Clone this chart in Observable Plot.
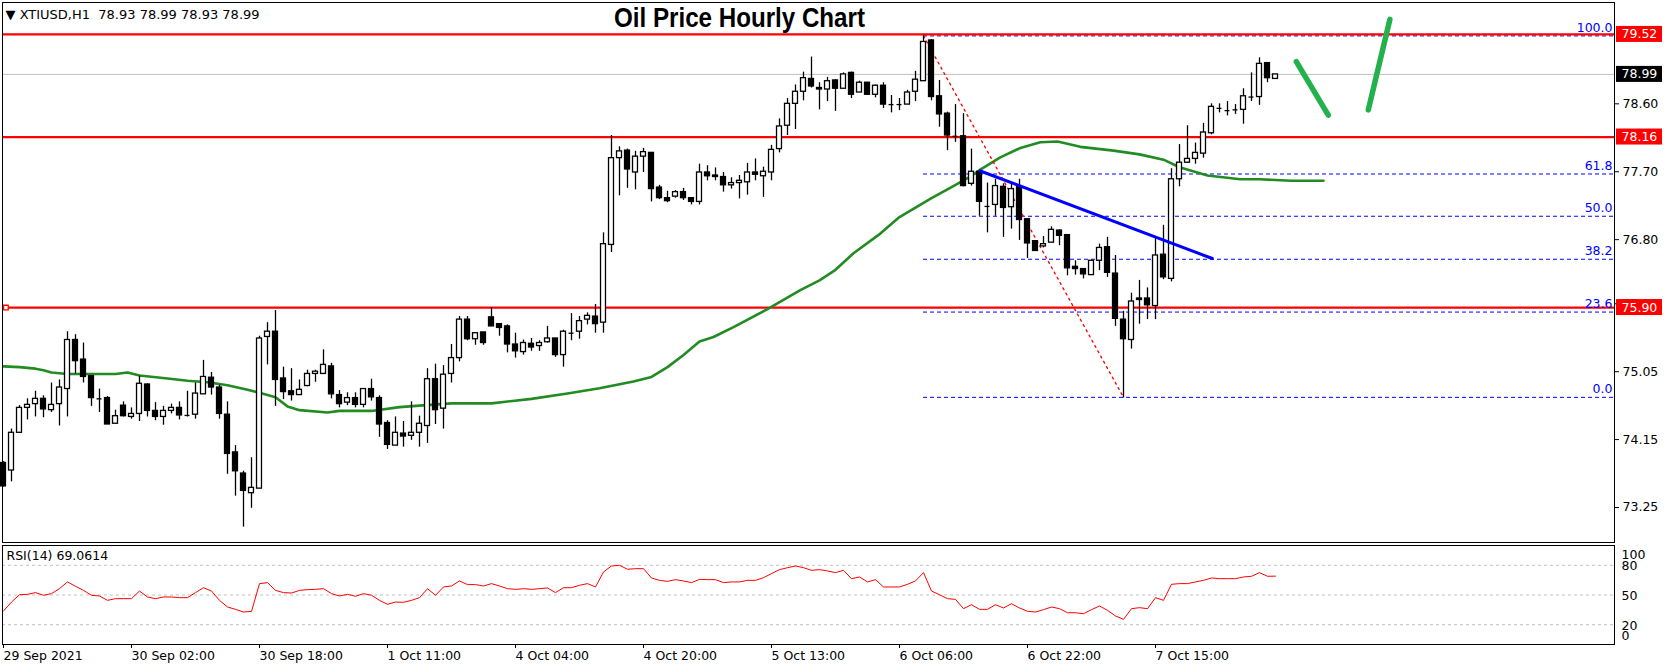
<!DOCTYPE html>
<html><head><meta charset="utf-8">
<script src="https://cdn.jsdelivr.net/npm/d3@7"></script>
<script src="https://cdn.jsdelivr.net/npm/@observablehq/plot@0.6"></script>
<style>
body{margin:0;background:#fff;}
#chart{position:relative;width:1670px;height:671px;overflow:hidden;background:#fff;}
#chart svg{display:block;}
</style></head><body><div id="chart"></div>
<script>
// ---- data (hourly bars, index 0 = first visible bar) ----
const headerText = "▼ XTIUSD,H1  78.93 78.99 78.93 78.99";
const titleText = "Oil Price Hourly Chart";
const rsiTitle = "RSI(14) 69.0614";

const opens = [73.84,73.74,74.24,74.57,74.62,74.69,74.54,74.62,74.82,75.47,
75.21,74.99,74.69,74.70,74.36,74.60,74.45,74.49,74.88,74.53,
74.45,74.53,74.57,74.47,74.48,74.75,74.97,74.84,74.48,73.98,
73.70,73.44,73.50,75.51,75.58,74.96,74.79,74.74,74.86,75.02,
75.02,75.12,74.74,74.64,74.70,74.61,74.82,74.70,74.37,74.07,
74.23,74.20,74.24,74.33,74.95,74.56,75.02,75.23,75.74,75.48,
75.57,75.77,75.68,75.65,75.41,75.31,75.42,75.39,75.44,75.49,
75.27,75.56,75.58,75.74,75.78,75.70,76.73,77.88,77.98,77.69,
77.90,77.95,77.49,77.35,77.37,77.43,77.35,77.30,77.69,77.65,
77.63,77.52,77.55,77.56,77.69,77.64,77.69,78.00,78.31,78.60,
78.76,78.93,78.81,78.79,78.91,78.80,79.01,78.75,78.88,78.72,
78.84,78.59,78.59,78.59,78.76,78.90,79.44,78.70,78.47,78.17,
78.17,77.54,77.70,77.24,77.26,77.50,77.23,77.50,77.07,76.78,
76.71,76.76,76.92,76.86,76.44,76.41,76.33,76.52,76.70,76.35,
75.74,75.47,76.02,76.02,75.92,76.60,76.28,77.60,77.82,77.87,
77.94,78.21,78.54,78.51,78.52,78.52,78.69,78.69,79.14,78.93];
const highs = [73.86,74.29,74.60,74.69,74.79,74.73,74.90,74.94,75.58,75.54,
75.43,74.99,74.82,74.72,74.54,74.65,74.57,74.99,74.89,74.64,
74.59,74.62,74.65,74.79,74.90,75.20,75.04,74.87,74.65,74.07,
73.73,73.91,75.52,75.70,75.86,75.11,75.09,74.94,75.07,75.07,
75.34,75.16,74.80,74.77,74.77,74.82,74.95,74.73,74.40,74.45,
74.39,74.65,74.46,75.09,75.15,75.13,75.41,75.78,75.78,75.56,
75.57,75.90,75.68,75.67,75.56,75.47,75.49,75.46,75.65,75.49,
75.60,75.82,75.78,75.83,75.94,76.89,78.18,78.03,78.00,77.97,
78.01,77.95,77.52,77.44,77.45,77.48,77.35,77.80,77.78,77.75,
77.69,77.62,77.65,77.81,77.87,77.76,78.05,78.40,78.67,78.85,
79.02,79.22,78.88,78.95,78.92,79.01,79.02,78.90,78.88,78.85,
78.88,78.71,78.67,78.78,79.03,79.50,79.45,78.91,78.49,78.59,
78.47,78.00,77.72,77.55,77.60,77.54,77.54,77.60,77.07,76.78,
76.84,76.97,76.93,76.86,76.52,76.41,76.52,76.74,76.83,76.59,
75.85,76.09,76.26,76.16,76.82,76.99,77.74,78.06,78.31,78.08,
78.34,78.60,78.60,78.63,78.59,78.80,79.01,79.21,79.14,78.99];
const lows = [73.52,73.59,74.24,74.41,74.45,74.44,74.51,74.33,74.45,75.02,
74.90,74.59,74.51,74.35,74.36,74.45,74.42,74.39,74.45,74.40,
74.34,74.49,74.41,74.45,74.42,74.75,74.74,74.42,73.69,73.40,
72.99,73.24,73.50,75.14,74.59,74.68,74.66,74.74,74.85,74.91,
75.02,74.69,74.57,74.60,74.57,74.57,74.66,74.18,74.02,74.07,
74.05,74.14,74.05,74.10,74.35,74.29,74.90,75.18,75.46,75.40,
75.40,75.65,75.52,75.30,75.23,75.27,75.32,75.32,75.43,75.24,
75.11,75.46,75.48,75.67,75.56,75.56,76.63,77.38,77.48,77.46,
77.69,77.30,77.33,77.29,77.35,77.32,77.26,77.26,77.58,77.58,
77.43,77.47,77.34,77.39,77.58,77.36,77.58,77.95,78.18,78.26,
78.64,78.81,78.52,78.63,78.50,78.80,78.67,78.75,78.72,78.68,
78.54,78.48,78.51,78.59,78.63,78.90,78.64,78.29,77.98,78.09,
77.50,77.51,77.11,76.89,77.11,76.83,76.94,76.79,76.55,76.65,
76.69,76.76,76.72,76.32,76.33,76.28,76.33,76.39,76.30,75.65,
74.70,75.35,75.68,75.74,75.74,76.27,76.24,77.50,77.81,77.80,
77.88,78.19,78.48,78.44,78.46,78.33,78.63,78.58,78.88,78.93];
const closes = [73.53,74.24,74.57,74.61,74.69,74.55,74.61,74.84,75.47,75.19,
74.98,74.70,74.69,74.35,74.46,74.46,74.49,74.89,74.53,74.45,
74.53,74.57,74.47,74.47,74.76,74.98,74.84,74.49,73.96,73.73,
73.47,73.51,75.49,75.58,74.94,74.78,74.74,74.81,75.02,75.05,
75.14,74.75,74.62,74.70,74.61,74.82,74.71,74.35,74.08,74.24,
74.19,74.24,74.36,74.95,74.54,75.01,75.23,75.74,75.48,75.56,
75.43,75.65,75.63,75.41,75.32,75.43,75.37,75.43,75.49,75.27,
75.58,75.56,75.72,75.79,75.68,76.74,77.88,77.97,77.73,77.90,
77.96,77.47,77.35,77.31,77.43,77.35,77.30,77.69,77.64,77.63,
77.52,77.55,77.58,77.69,77.66,77.70,77.99,78.30,78.60,78.76,
78.94,78.83,78.79,78.90,78.80,78.99,78.72,78.88,78.72,78.84,
78.59,78.59,78.59,78.75,78.92,79.42,78.69,78.46,78.18,78.17,
77.51,77.70,77.30,77.24,77.51,77.22,77.47,77.06,76.75,76.65,
76.74,76.93,76.85,76.42,76.41,76.34,76.52,76.69,76.36,75.75,
75.48,75.98,76.00,75.93,76.59,76.30,77.60,77.82,77.87,77.95,
78.22,78.56,78.54,78.51,78.52,78.70,78.69,79.13,78.94,78.99];

// green moving average, read at bar positions
const maBars = [0,2,4,5,6,8,14,15.5,17,20.5,23,25.5,28,30.5,32,34,35.5,37,40.5,42,46,49.5,52,56,61,66,70.5,74.5,78.75,81,83,85,87,88.75,91.25,95.5,99.6,102,104,106.25,109.6,112,116,118.4,120.9,122,124.6,127,129.6,131.75,134.6,138.75,142,145,147,150.5,154.6,157,161,165];
const maValues = [75.12,75.11,75.09,75.07,75.04,75.02,75.02,75.04,75.00,74.96,74.93,74.91,74.87,74.81,74.77,74.71,74.59,74.54,74.51,74.53,74.53,74.58,74.60,74.63,74.63,74.69,74.76,74.83,74.92,74.98,75.11,75.27,75.45,75.51,75.64,75.88,76.13,76.26,76.40,76.62,76.88,77.10,77.35,77.49,77.64,77.72,77.89,78.01,78.09,78.10,78.03,77.98,77.93,77.86,77.76,77.65,77.60,77.60,77.58,77.58];

const rsiValues = [33.8,42.9,50.3,50.7,52.4,49.7,51.4,56.4,63.2,58.8,
54.7,49.7,49.0,44.6,46.3,46.3,46.3,54.0,48.0,46.3,
48.0,48.0,47.3,47.3,52.4,57.4,54.0,44.6,37.9,35.5,
32.8,33.5,61.5,62.5,54.7,52.4,52.0,54.7,55.4,55.7,
56.4,51.4,49.0,50.7,48.7,51.4,49.7,44.6,40.6,42.9,
42.6,44.6,47.3,56.4,49.7,58.1,59.1,64.2,60.5,60.5,
59.1,61.5,59.1,56.4,55.7,56.4,55.7,56.4,57.1,52.4,
57.4,57.4,59.8,61.5,58.1,73.3,79.3,80.0,76.0,76.6,
76.6,67.2,64.8,63.8,65.5,64.2,62.5,65.8,65.5,65.5,
62.5,63.2,63.2,64.8,64.8,67.5,71.6,75.6,77.6,79.3,
77.6,74.9,75.6,74.3,72.6,74.9,66.5,68.2,63.2,65.5,
58.1,58.1,58.1,60.8,64.2,72.6,54.0,50.3,46.3,45.6,
36.2,40.2,35.5,35.5,40.2,36.9,41.2,36.9,33.5,32.8,
35.2,37.9,36.2,32.1,32.1,31.1,35.2,38.9,34.5,28.8,
25.4,36.2,37.2,36.2,47.3,44.6,60.8,61.5,61.5,63.2,
64.8,67.2,66.5,66.5,66.5,68.2,68.9,72.6,68.9,69.06];

const redLevels = [79.52, 78.16, 75.90];
const lastPrice = 78.99;
const priceTicks = [73.25, 74.15, 75.05, 75.95, 76.80, 77.70, 78.60];
const fibLabels = ["0.0", "23.6", "38.2", "50.0", "61.8", "100.0"];
const fibPrices = [74.71, 75.84, 76.54, 77.11, 77.67, 79.50];
const fibStartBar = 115;
const fibDiagBars = [115, 140];
const fibDiagPrices = [79.50, 74.71];
const trendBars = [122.1, 151.1];
const trendPrices = [77.71, 76.55];
const handBars = [[161.6, 165.6], [170.6, 173.3]];
const handPrices = [[79.16, 78.45], [78.52, 79.72]];
const xTickBars = [0, 16, 32, 48, 64, 80, 96, 112, 128, 144];
const xTickLabels = ["29 Sep 2021", "30 Sep 02:00", "30 Sep 18:00", "1 Oct 11:00", "4 Oct 04:00", "4 Oct 20:00", "5 Oct 13:00", "6 Oct 06:00", "6 Oct 22:00", "7 Oct 15:00"];
const rsiGrid = [20, 50, 80];
const rsiEdgeLabels = [100, 0];

// ---- build ----
const W = 1670;
const xDomain = [-0.125, 201.375];
const xEnd = xDomain[1];
const FONT = "DejaVu Sans, Liberation Sans, sans-serif";
const FS = 12.5;

const candles = opens.map((o, i) => ({i, open: o, high: highs[i], low: lows[i], close: closes[i]}));
const upBodies = candles.filter(d => d.close - d.open >= 0.015);
const downBodies = candles.filter(d => d.open - d.close >= 0.015);
const dojis = candles.filter(d => Math.abs(d.close - d.open) < 0.015);
const ma = maBars.map((b, k) => ({b, v: maValues[k]}));
const fibDiag = fibDiagBars.map((b, k) => ({b, p: fibDiagPrices[k]}));
const trend = trendBars.map((b, k) => ({b, p: trendPrices[k]}));
const hand = handBars.flatMap((bs, s) => bs.map((b, k) => ({s, b, p: handPrices[s][k]})));
const tickLabel = new Map(xTickBars.map((b, k) => [b, xTickLabels[k]]));

const main = Plot.plot({
  width: W, height: 543,
  marginTop: 2, marginBottom: 1, marginLeft: 2, marginRight: 56,
  style: {fontFamily: FONT, fontSize: FS + "px", background: "white", overflow: "visible"},
  x: {domain: xDomain, axis: null},
  y: {domain: [72.786, 79.943]},
  marks: [
    Plot.ruleY([lastPrice], {stroke: "#c0c0c0", strokeWidth: 1}),
    Plot.ruleY(fibPrices, {y: d => d, x1: fibStartBar, x2: xEnd, stroke: "#0000ff", strokeDasharray: "4,3"}),
    Plot.ruleY(redLevels, {stroke: "#ff0000", strokeWidth: 2.2}),
    Plot.line(ma, {x: "b", y: "v", stroke: "#228b22", strokeWidth: 2.6}),
    Plot.line(fibDiag, {x: "b", y: "p", stroke: "#ff0000", strokeWidth: 1.3, strokeDasharray: "2,4"}),
    Plot.ruleX(candles, {x: "i", y1: "low", y2: "high", stroke: "black", strokeWidth: 1.3}),
    Plot.rect(upBodies, {x1: d => d.i - 0.31, x2: d => d.i + 0.31, y1: "open", y2: "close", fill: "white", stroke: "black", strokeWidth: 1.3}),
    Plot.rect(downBodies, {x1: d => d.i - 0.31, x2: d => d.i + 0.31, y1: "open", y2: "close", fill: "black", stroke: "black", strokeWidth: 1.3}),
    Plot.ruleY(dojis, {x1: d => d.i - 0.31, x2: d => d.i + 0.31, y: "close", stroke: "black", strokeWidth: 1.3}),
    Plot.line(trend, {x: "b", y: "p", stroke: "#0000ff", strokeWidth: 3}),
    Plot.line(hand, {x: "b", y: "p", z: "s", stroke: "#22b14c", strokeWidth: 5.5, strokeLinecap: "round"}),
    Plot.dot([redLevels[2]], {x: 0.3, y: d => d, symbol: "square", r: 2.6, stroke: "#ff0000", fill: "white", strokeWidth: 1.3}),
    Plot.text(fibPrices, {x: xEnd, y: d => d, text: (d, k) => fibLabels[k], textAnchor: "end", dx: -2, dy: -8, fill: "#0000ff", fontSize: FS}),
    Plot.frame({stroke: "black"}),
    Plot.axisY(priceTicks, {anchor: "right", tickSize: 4, tickPadding: 4, tickFormat: d => d.toFixed(2), label: null, fontSize: FS, fill: "black"}),
    Plot.rect(redLevels, {x1: xEnd, x2: xEnd, y1: d => d, y2: d => d, insetLeft: 2, insetRight: -48, insetTop: -8, insetBottom: -8, fill: "#ff0000"}),
    Plot.text(redLevels, {x: xEnd, y: d => d, text: d => d.toFixed(2), dx: 7, textAnchor: "start", fill: "white", fontSize: FS}),
    Plot.rect([lastPrice], {x1: xEnd, x2: xEnd, y1: d => d, y2: d => d, insetLeft: 2, insetRight: -48, insetTop: -8, insetBottom: -8, fill: "black"}),
    Plot.text([lastPrice], {x: xEnd, y: d => d, text: d => d.toFixed(2), dx: 7, textAnchor: "start", fill: "white", fontSize: FS}),
    Plot.text([headerText], {frameAnchor: "top-left", dx: 3, dy: 12, textAnchor: "start", lineAnchor: "middle", fontSize: 13, fill: "black"}),
    Plot.text([titleText], {frameAnchor: "top-left", dx: 737, dy: 16, textAnchor: "middle", lineAnchor: "middle", fontSize: 27, fontWeight: "bold", fontFamily: "Liberation Sans, Arial, sans-serif", fill: "black"})
  ]
});

const rsiPanel = Plot.plot({
  width: W, height: 128,
  marginTop: 2, marginBottom: 27, marginLeft: 2, marginRight: 56,
  style: {fontFamily: FONT, fontSize: FS + "px", background: "white", overflow: "visible"},
  x: {domain: xDomain},
  y: {domain: [0, 100], axis: null},
  marks: [
    Plot.ruleY(rsiGrid, {stroke: "#c0c0c0", strokeDasharray: "3,3"}),
    Plot.line(rsiValues, {x: (d, i) => i, y: d => d, stroke: "#ff0000", strokeWidth: 1}),
    Plot.frame({stroke: "black"}),
    Plot.axisX(xTickBars, {anchor: "bottom", tickSize: 4, tickPadding: 3, tickFormat: d => tickLabel.get(d), textAnchor: "start", label: null, fontSize: FS, fill: "black"}),
    Plot.text(rsiGrid, {x: xEnd, y: d => d, text: d => String(d), dx: 7, dy: 1, textAnchor: "start", fontSize: FS, fill: "black"}),
    Plot.text([rsiEdgeLabels[0]], {x: xEnd, y: d => d, text: d => String(d), dx: 7, dy: 9, textAnchor: "start", fontSize: FS, fill: "black"}),
    Plot.text([rsiEdgeLabels[1]], {x: xEnd, y: d => d, text: d => String(d), dx: 7, dy: -9, textAnchor: "start", fontSize: FS, fill: "black"}),
    Plot.text([rsiTitle], {frameAnchor: "top-left", dx: 4, dy: 10, textAnchor: "start", lineAnchor: "middle", fontSize: FS, fill: "black"})
  ]
});

// squeeze the title horizontally like the condensed original face
d3.select(main).selectAll("text")
  .filter(function () { return this.textContent === titleText; })
  .attr("textLength", 251)
  .attr("lengthAdjust", "spacingAndGlyphs");

const host = document.getElementById("chart");
host.appendChild(main);
host.appendChild(rsiPanel);
</script>
</body></html>
